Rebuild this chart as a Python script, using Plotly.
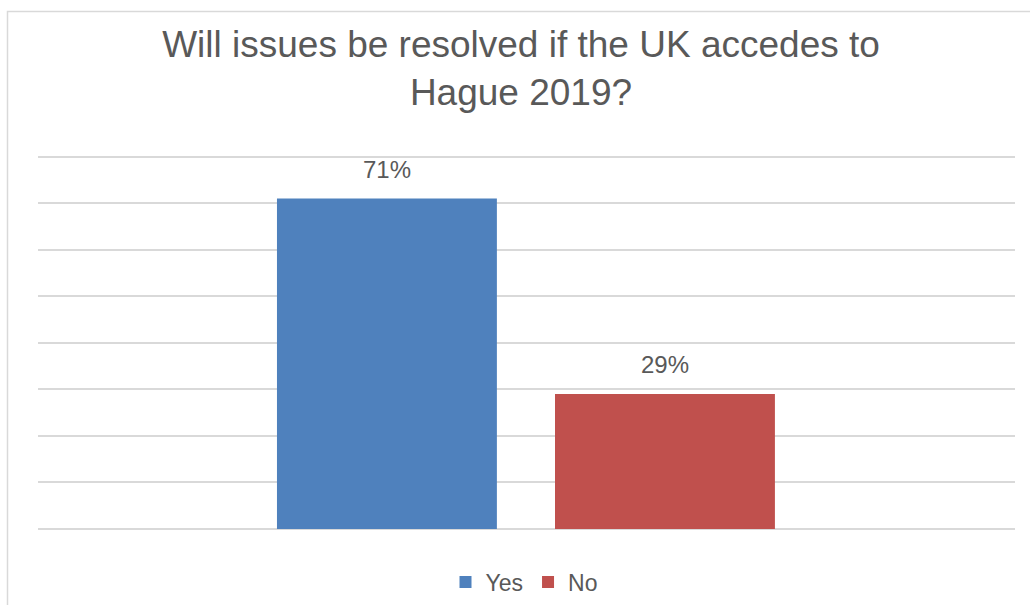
import plotly.graph_objects as go

# Survey answers
answers = ["Yes", "No"]
shares = [71, 29]          # percent of respondents
colors = ["#4F81BD", "#C0504D"]
title_lines = ["Will issues be resolved if the UK accedes to", "Hague 2019?"]

FONT = "Liberation Sans, Arial, sans-serif"
TEXT = "#595959"
GRID = "#D9D9D9"

W, H = 1030, 605
M_L, M_R, M_T, M_B = 38, 15, 152, 76

fig = go.Figure()
for name, val, col in zip(answers, shares, colors):
    fig.add_trace(go.Bar(
        x=[name], y=[val], name=name,
        marker=dict(color=col, line=dict(width=0)),
        width=0.791,
        hoverinfo="skip",
    ))
    # value label above each bar
    fig.add_annotation(
        x=name, y=val, text=f"{val}%", showarrow=False,
        yanchor="bottom", yshift=14,
        font=dict(family=FONT, size=24, color=TEXT),
    )

# chart-area frame (light grey border)
pw = W - M_L - M_R
ph = H - M_T - M_B
fig.add_shape(
    type="rect", xref="paper", yref="paper",
    x0=(7.5 - M_L) / pw, x1=(W + 20 - M_L) / pw,
    y0=-(H + 20 - (H - M_B)) / ph, y1=((H - M_B) - 11.5) / ph,
    line=dict(color=GRID, width=1.5), fillcolor="rgba(0,0,0,0)",
    layer="below",
)

fig.update_layout(
    width=W, height=H,
    margin=dict(l=M_L, r=M_R, t=M_T, b=M_B, pad=0, autoexpand=False),
    paper_bgcolor="white", plot_bgcolor="white",
    barmode="overlay",
    title=dict(
        text="<br>".join(title_lines),
        x=521 / W, xref="container", xanchor="center",
        y=1 - 57 / H, yref="container", yanchor="top",
        font=dict(family=FONT, size=37, color=TEXT),
        automargin=False,
    ),
    showlegend=True,
    legend=dict(
        orientation="h", x=(524 - M_L) / pw, xanchor="center",
        y=1 - 582 / H, yref="container", yanchor="middle",
        font=dict(family=FONT, size=23, color=TEXT),
        itemclick=False, itemdoubleclick=False,
        bgcolor="rgba(0,0,0,0)",
    ),
    xaxis=dict(
        type="category", range=[-1.255, 2.259],
        showticklabels=False, showgrid=False, zeroline=False,
        showline=False, ticks="", fixedrange=True,
    ),
    yaxis=dict(
        range=[0, 81], tick0=0, dtick=10, showticklabels=False,
        showgrid=True, gridcolor=GRID, gridwidth=1.5,
        zeroline=True, zerolinecolor=GRID, zerolinewidth=1.5,
        showline=False, ticks="", fixedrange=True,
    ),
)

fig.write_html("out.html", config={"displayModeBar": False})
